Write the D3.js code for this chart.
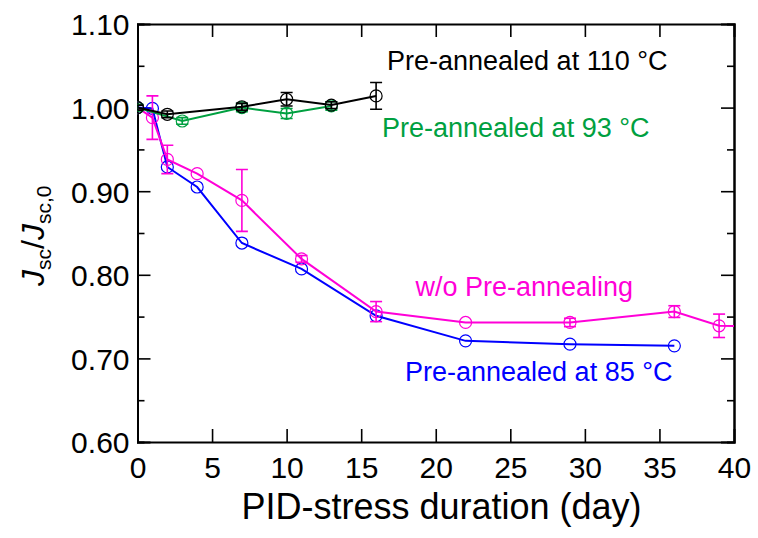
<!DOCTYPE html>
<html>
<head>
<meta charset="utf-8">
<script src="https://cdn.jsdelivr.net/npm/d3@7"></script>
<style>
  body { margin: 0; background: #fff; }
  svg { display: block; font-family: "Liberation Sans", Arial, sans-serif; }
</style>
</head>
<body>
<div id="chart"></div>
<script>
// data
var days110 = [0, 2, 7, 10, 13, 16];
var vals110 = [1.000, 0.992, 1.001, 1.010, 1.003, 1.014];
var errs110 = [0.003, 0.004, 0.004, 0.008, 0.004, 0.016];

var days93 = [0, 3, 7, 10, 13];
var vals93 = [1.000, 0.984, 1.000, 0.993, 1.002];
var errs93 = [0.004, 0.004, 0.005, 0.006, 0.005];

var daysWo = [0, 1, 2, 4, 7, 11, 16, 22, 29, 36, 39, 43];
var valsWo = [1.000, 0.988, 0.938, 0.921, 0.889, 0.819, 0.756, 0.743, 0.743, 0.756, 0.739, 0.738];
var errsWo = [0.002, 0.026, 0.017, 0.002, 0.037, 0.004, 0.012, 0.001, 0.005, 0.007, 0.014, 0];

var days85 = [0, 1, 2, 4, 7, 11, 16, 22, 29, 36];
var vals85 = [1.000, 0.999, 0.929, 0.905, 0.838, 0.807, 0.751, 0.721, 0.717, 0.715];

var xTicks = [0, 5, 10, 15, 20, 25, 30, 35, 40];
var yTicks = [0.60, 0.70, 0.80, 0.90, 1.00, 1.10];
var yMinor = [0.65, 0.75, 0.85, 0.95, 1.05];

var margin = { top: 24, right: 24, bottom: 96, left: 137.5 };
var width = 758 - margin.left - margin.right,
    height = 538 - margin.top - margin.bottom;

var svg = d3.select("#chart")
    .append("svg")
    .attr("width", 758)
    .attr("height", 538);

var g = svg.append("g")
    .attr("transform", "translate(" + margin.left + "," + margin.top + ")");

var x = d3.scaleLinear().domain([0, 40]).range([0, width]);
var y = d3.scaleLinear().domain([0.6, 1.1]).range([height, 0]);

svg.append("defs").append("clipPath")
    .attr("id", "plotClip")
    .append("rect")
    .attr("width", width)
    .attr("height", height);

// axes, ticks drawn inward on all four sides
var axisBottom = g.append("g")
    .attr("transform", "translate(0," + height + ")")
    .call(d3.axisBottom(x).tickValues(xTicks).tickSize(-13).tickPadding(15)
        .tickFormat(d3.format("d")));
var axisTop = g.append("g")
    .call(d3.axisTop(x).tickValues(xTicks).tickSize(-13).tickFormat(""));
var axisLeft = g.append("g")
    .call(d3.axisLeft(y).tickValues(yTicks).tickSize(-13).tickPadding(8)
        .tickFormat(d3.format(".2f")));
var axisRight = g.append("g")
    .attr("transform", "translate(" + width + ",0)")
    .call(d3.axisRight(y).tickValues(yTicks).tickSize(-13).tickFormat(""));

g.append("g").call(d3.axisLeft(y).tickValues(yMinor).tickSize(-7).tickFormat(""));
g.append("g").attr("transform", "translate(" + width + ",0)")
    .call(d3.axisRight(y).tickValues(yMinor).tickSize(-7).tickFormat(""));

g.selectAll(".domain")
    .attr("stroke", "#000")
    .attr("stroke-width", 2);
g.selectAll(".tick line")
    .attr("stroke", "#000")
    .attr("stroke-width", 1.6);
g.selectAll(".tick text")
    .attr("fill", "#000")
    .style("font-size", "30px");
axisBottom.selectAll(".tick text").attr("dy", "0.71em");
axisLeft.selectAll(".tick text").attr("dy", "0.36em");
// hide the edge ticks that sit on the frame
g.selectAll(".tick").filter(function (d) { return d === 0 || d === 40 || d === 0.6 || d === 1.1; })
    .select("line").remove();

function drawSeries(days, vals, errs, color) {
    var pts = days.map(function (d, i) {
        return { x: d, y: vals[i], e: errs ? errs[i] : 0 };
    });
    var s = g.append("g").attr("clip-path", "url(#plotClip)");

    s.append("path")
        .datum(pts)
        .attr("fill", "none")
        .attr("stroke", color)
        .attr("stroke-width", 2)
        .attr("d", d3.line()
            .x(function (d) { return x(d.x); })
            .y(function (d) { return y(d.y); }));

    if (errs) {
        var eb = s.selectAll(".err")
            .data(pts.filter(function (d) { return d.e > 0.002; }))
            .enter()
            .append("g")
            .attr("stroke", color)
            .attr("stroke-width", 1.6);
        eb.append("line")
            .attr("x1", function (d) { return x(d.x); })
            .attr("x2", function (d) { return x(d.x); })
            .attr("y1", function (d) { return y(d.y - d.e); })
            .attr("y2", function (d) { return y(d.y + d.e); });
        eb.append("line")
            .attr("x1", function (d) { return x(d.x) - 6; })
            .attr("x2", function (d) { return x(d.x) + 6; })
            .attr("y1", function (d) { return y(d.y - d.e); })
            .attr("y2", function (d) { return y(d.y - d.e); });
        eb.append("line")
            .attr("x1", function (d) { return x(d.x) - 6; })
            .attr("x2", function (d) { return x(d.x) + 6; })
            .attr("y1", function (d) { return y(d.y + d.e); })
            .attr("y2", function (d) { return y(d.y + d.e); });
    }

    s.selectAll(".pt")
        .data(pts)
        .enter()
        .append("circle")
        .attr("cx", function (d) { return x(d.x); })
        .attr("cy", function (d) { return y(d.y); })
        .attr("r", 6)
        .attr("fill", "none")
        .attr("stroke", color)
        .attr("stroke-width", 1.2);
}

drawSeries(days85, vals85, null, "#0000ff");
drawSeries(daysWo, valsWo, errsWo, "#ff00d8");
drawSeries(days93, vals93, errs93, "#00a040");
drawSeries(days110, vals110, errs110, "#000000");

// series labels
var labels = [
    { text: "Pre-annealed at 110 \u00B0C", x: 387, y: 70, color: "#000000" },
    { text: "Pre-annealed at 93 \u00B0C", x: 382, y: 137, color: "#00a040" },
    { text: "w/o Pre-annealing", x: 415.5, y: 296, color: "#ff00d8" },
    { text: "Pre-annealed at 85 \u00B0C", x: 405, y: 381, color: "#0000ff" }
];
svg.selectAll(".lbl")
    .data(labels)
    .enter()
    .append("text")
    .attr("x", function (d) { return d.x; })
    .attr("y", function (d) { return d.y; })
    .attr("fill", function (d) { return d.color; })
    .style("font-size", "27px")
    .text(function (d) { return d.text; });

// axis titles
svg.append("text")
    .attr("x", 441.5)
    .attr("y", 519)
    .attr("text-anchor", "middle")
    .style("font-size", "36px")
    .text("PID-stress duration (day)");

var yt = svg.append("text")
    .attr("transform", "translate(44,286) rotate(-90)")
    .attr("text-anchor", "start")
    .style("font-size", "32px");
yt.append("tspan").style("font-style", "italic").text("J");
yt.append("tspan").attr("dy", 7).style("font-size", "21px").text("sc");
yt.append("tspan").attr("dy", -7).text("/");
yt.append("tspan").style("font-style", "italic").text("J");
yt.append("tspan").attr("dy", 7).style("font-size", "21px").text("sc,0");
</script>
</body>
</html>
